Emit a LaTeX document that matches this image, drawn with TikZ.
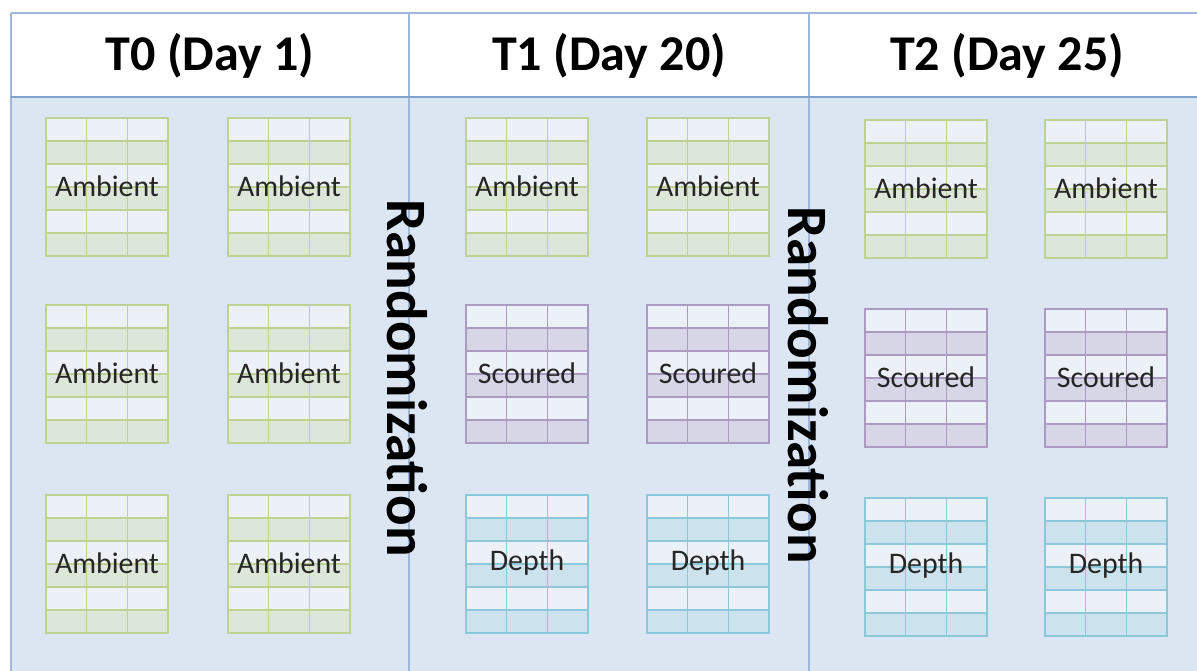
\documentclass[tikz,border=0pt]{standalone}
\usepackage{fontspec}
\setmainfont{Carlito}
\definecolor{bodyblue}{HTML}{DCE6F2}
\definecolor{rulecol}{HTML}{9DB8DA}
\definecolor{headrule}{HTML}{7FA2CC}
\definecolor{ambgreen}{HTML}{9BBB59}
\definecolor{scourpurple}{HTML}{8064A2}
\definecolor{depthaqua}{HTML}{4BACC6}
\tikzset{
  plotlabel/.style={font=\fontsize{17}{20}\selectfont,text=black!85},
  phase/.style={font=\fontsize{28.5}{34}\selectfont\bfseries},
  randlabel/.style={font=\fontsize{32.5}{38}\selectfont\bfseries,rotate=-90},
}
% one plot grid: name, left, top, colour, label
\newcommand{\plotgrid}[5]{%
  \begin{scope}[shift={(#2,#3)}]
    \foreach \r in {0,...,5}{
      \ifodd\r \fill[#4!35,opacity=.55] (0,\r*23) rectangle (122,\r*23+23);
      \else \fill[white,opacity=.45] (0,\r*23) rectangle (122,\r*23+23); \fi
    }
    \begin{scope}[#4!65,line width=0.6pt]
      \foreach \r in {1,...,5} \draw (0,\r*23) -- (122,\r*23);
      \foreach \c in {1,2} \draw (\c*40.667,0) -- (\c*40.667,138);
      \draw (0,0) rectangle (122,138);
      \draw[line width=1.3pt] (0,23) -- (122,23);
    \end{scope}
  \end{scope}
  \node[plotlabel] (#1) at ({#2+61},{#3+68}) {#5};
}
\begin{document}
\begin{tikzpicture}[x=0.02cm,y=-0.02cm]
\useasboundingbox (0,0) rectangle (1197,670);
\clip (0,0) rectangle (1197,670);
\fill[white] (0,0) rectangle (1197,670);
\fill[bodyblue] (11,97) rectangle (1220,690);
\draw[rulecol,line width=0.9pt] (11,13) -- (1220,13);
\draw[rulecol,line width=0.9pt] (11,13) -- (11,690);
\draw[rulecol,line width=0.9pt] (409,13) -- (409,690);
\draw[rulecol,line width=0.9pt] (809,13) -- (809,690);
\draw[headrule,line width=1.6pt] (11,97) -- (1220,97);
% headers
\node[phase] (t0) at (210,56) {T0 (Day 1)};
\node[phase] (t1) at (609,56) {T1 (Day 20)};
\node[phase] (t2) at (1007,56) {T2 (Day 25)};
% T0
\plotgrid{a01}{46}{118}{ambgreen}{Ambient}
\plotgrid{a02}{228}{118}{ambgreen}{Ambient}
\plotgrid{a03}{46}{305}{ambgreen}{Ambient}
\plotgrid{a04}{228}{305}{ambgreen}{Ambient}
\plotgrid{a05}{46}{495}{ambgreen}{Ambient}
\plotgrid{a06}{228}{495}{ambgreen}{Ambient}
% T1
\plotgrid{a11}{466}{118}{ambgreen}{Ambient}
\plotgrid{a12}{647}{118}{ambgreen}{Ambient}
\plotgrid{s11}{466}{305}{scourpurple}{Scoured}
\plotgrid{s12}{647}{305}{scourpurple}{Scoured}
\plotgrid{d11}{466}{495}{depthaqua}{Depth}
\plotgrid{d12}{647}{495}{depthaqua}{Depth}
% T2
\plotgrid{a21}{865}{120}{ambgreen}{Ambient}
\plotgrid{a22}{1045}{120}{ambgreen}{Ambient}
\plotgrid{s21}{865}{309}{scourpurple}{Scoured}
\plotgrid{s22}{1045}{309}{scourpurple}{Scoured}
\plotgrid{d21}{865}{498}{depthaqua}{Depth}
\plotgrid{d22}{1045}{498}{depthaqua}{Depth}
% randomization steps
\node[randlabel] (rand1) at (407,378) {Randomization};
\node[randlabel] (rand2) at (808,385) {Randomization};
\end{tikzpicture}
\end{document}
